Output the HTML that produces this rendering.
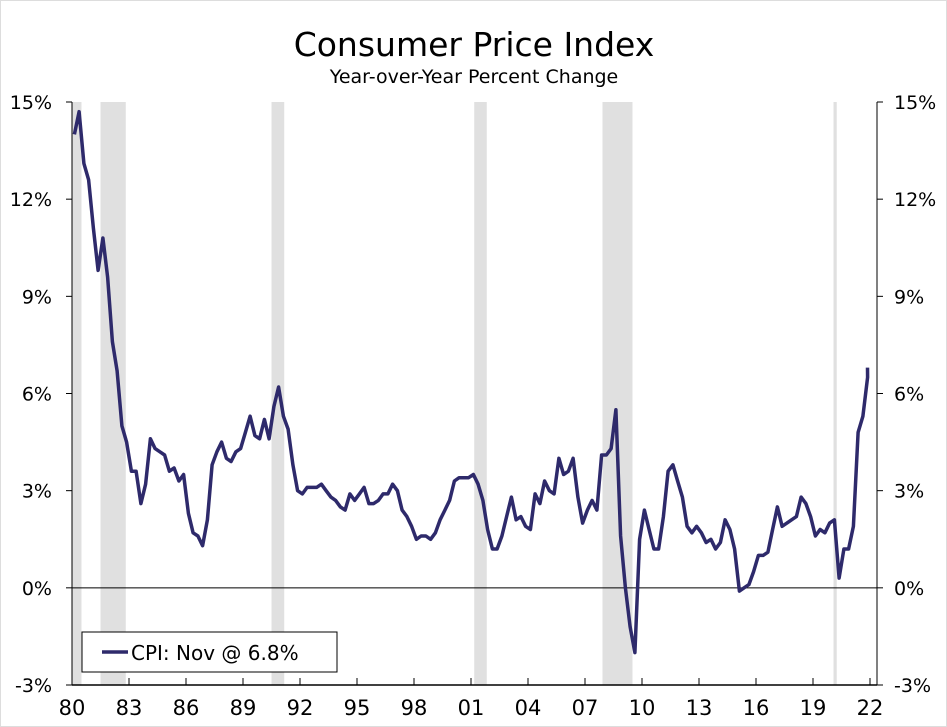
<!DOCTYPE html>
<html><head><meta charset="utf-8"><style>
body{margin:0;background:#fff;}
svg{display:block;font-family:"DejaVu Sans","Liberation Sans",sans-serif;}
</style></head><body>
<svg id="chart" width="947" height="727" viewBox="0 0 947 727">
<rect x="0.5" y="0.5" width="946" height="726" fill="#fff" stroke="#ddd"/>
<text x="474" y="56" text-anchor="middle" font-size="33" fill="#000">Consumer Price Index</text>
<text x="474" y="83" text-anchor="middle" font-size="19" fill="#000">Year-over-Year Percent Change</text>
<g id="rec"></g>
<g id="axes"></g>
<g id="series"></g>
<g>
<rect x="82" y="632" width="255" height="40" fill="#fff" stroke="#000" stroke-width="1"/>
<line x1="102" y1="652" x2="128" y2="652" stroke="#2e2a6b" stroke-width="3.5"/>
<text x="131" y="660" font-size="20">CPI: Nov @ 6.8%</text>
</g>
</svg>
<script>
const startYear = 1980;
const cpiValues = [
14.0,14.7,13.1,12.6, 11.1,9.8,10.8,9.6, 7.6,6.7,5.0,4.5, 3.6,3.6,2.6,3.2,
4.6,4.3,4.2,4.1, 3.6,3.7,3.3,3.5, 2.3,1.7,1.6,1.3, 2.1,3.8,4.2,4.5,
4.0,3.9,4.2,4.3, 4.8,5.3,4.7,4.6, 5.2,4.6,5.6,6.2, 5.3,4.9,3.8,3.0,
2.9,3.1,3.1,3.1, 3.2,3.0,2.8,2.7, 2.5,2.4,2.9,2.7, 2.9,3.1,2.6,2.6,
2.7,2.9,2.9,3.2, 3.0,2.4,2.2,1.9, 1.5,1.6,1.6,1.5, 1.7,2.1,2.4,2.7,
3.3,3.4,3.4,3.4, 3.5,3.2,2.7,1.8, 1.2,1.2,1.6,2.2, 2.8,2.1,2.2,1.9,
1.8,2.9,2.6,3.3, 3.0,2.9,4.0,3.5, 3.6,4.0,2.8,2.0, 2.4,2.7,2.4,4.1,
4.1,4.3,5.5,1.6, 0.0,-1.2,-2.0,1.5, 2.4,1.8,1.2,1.2, 2.2,3.6,3.8,3.3,
2.8,1.9,1.7,1.9, 1.7,1.4,1.5,1.2, 1.4,2.1,1.8,1.2, -0.1,0.0,0.1,0.5,
1.0,1.0,1.1,1.8, 2.5,1.9,2.0,2.1, 2.2,2.8,2.6,2.2, 1.6,1.8,1.7,2.0,
2.1,0.3,1.2,1.2, 1.9,4.8,5.3,6.5, 6.8];
const recStarts = [1980.0, 1981.5, 1990.5, 2001.17, 2007.92, 2020.08];
const recEnds   = [1980.5, 1982.83, 1991.17, 2001.83, 2009.5, 2020.25];
const yTicks = [-3,0,3,6,9,12,15];
const xTickYears = [1980,1983,1986,1989,1992,1995,1998,2001,2004,2007,2010,2013,2016,2019,2022];

const L=72,R=877,T=102,B=685;
const x = yr => L + (yr-1980)*19;
const y = v => B - (v+3)/18*(B-T);
const NS='http://www.w3.org/2000/svg';
function mk(tag, attrs, parent){const e=document.createElementNS(NS,tag);for(const k in attrs)e.setAttribute(k,attrs[k]);parent.appendChild(e);return e;}
const rec=document.getElementById('rec'), ax=document.getElementById('axes'), se=document.getElementById('series');
recStarts.forEach((s,i)=>{
  const r=mk('rect',{x:x(s),y:T,width:x(recEnds[i])-x(s),height:B-T,fill:'#e0e0e0'},rec);
  
  
});
mk('line',{x1:L,y1:T,x2:L,y2:B,stroke:'#000','stroke-width':1},ax);
mk('line',{x1:R,y1:T,x2:R,y2:B,stroke:'#000','stroke-width':1},ax);
mk('line',{x1:L,y1:B,x2:R,y2:B,stroke:'#000','stroke-width':1.5},ax);
mk('line',{x1:L,y1:y(0),x2:R,y2:y(0),stroke:'#000','stroke-width':1},ax);
yTicks.forEach(v=>{
  mk('line',{x1:L-6,y1:y(v),x2:L,y2:y(v),stroke:'#000'},ax);
  mk('line',{x1:R,y1:y(v),x2:R+6,y2:y(v),stroke:'#000'},ax);
  const t1=mk('text',{x:L-20,y:y(v)+7,'text-anchor':'end','font-size':19},ax);t1.textContent=v+'%';
  
  
  const t2=mk('text',{x:R+17,y:y(v)+7,'text-anchor':'start','font-size':19},ax);t2.textContent=v+'%';
  
  
});
xTickYears.forEach(yr=>{
  mk('line',{x1:x(yr),y1:B-7,x2:x(yr),y2:B,stroke:'#000'},ax);
  const t=mk('text',{x:x(yr),y:B+30,'text-anchor':'middle','font-size':21},ax);t.textContent=String(yr).slice(2);
  
  
});
let d='';
cpiValues.forEach((v,i)=>{
  const yr = i<cpiValues.length-1 ? startYear+i*0.25+0.125 : 2021.87;
  d+=(i?'L':'M')+x(yr).toFixed(1)+' '+y(v).toFixed(1);
});
const p=mk('path',{d:d,fill:'none',stroke:'#2e2a6b','stroke-width':3.5,'stroke-linejoin':'round'},se);


</script>
</body></html>
